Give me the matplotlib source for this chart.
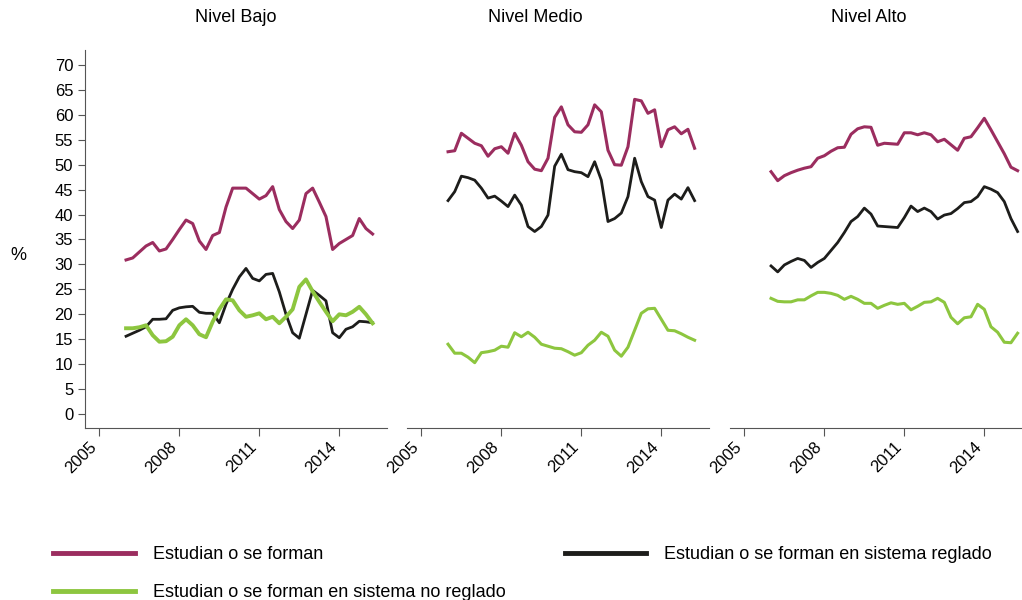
import numpy as np
import matplotlib
matplotlib.use("Agg")
import matplotlib.pyplot as plt
from matplotlib.lines import Line2D

plt.rcParams['font.family'] = ['Liberation Sans', 'DejaVu Sans']

# quarterly, 2006Q1 .. 2015Q2
years = 2006 + np.arange(38) / 4.0

titles = ["Nivel Bajo", "Nivel Medio", "Nivel Alto"]
labels = ["Estudian o se forman",
          "Estudian o se forman en sistema reglado",
          "Estudian o se forman en sistema no reglado"]

# Nivel Bajo
bajo_total = [30.9, 31.3, 32.5, 33.7, 34.4, 32.7, 33.1, 35.0, 37.0, 38.9,
              38.2, 34.7, 33.0, 35.8, 36.4, 41.5, 45.3, 45.3, 45.3, 44.2,
              43.1, 43.8, 45.6, 41.0, 38.6, 37.2, 38.9, 44.2, 45.3, 42.5,
              39.6, 33.0, 34.2, 35.0, 35.8, 39.2, 37.2, 36.1]
bajo_reglado = [15.6, 16.2, 16.8, 17.5, 19.0, 19.0, 19.1, 20.8, 21.3, 21.5,
                21.6, 20.4, 20.2, 20.2, 18.3, 22.0, 25.0, 27.5, 29.2, 27.2,
                26.7, 28.0, 28.2, 24.5, 20.0, 16.3, 15.2, 20.0, 24.8, 23.8,
                22.7, 16.3, 15.3, 17.0, 17.5, 18.6, 18.5, 18.3]
bajo_noreglado = [17.2, 17.2, 17.4, 17.8, 15.8, 14.5, 14.6, 15.5, 17.8, 19.0,
                  17.8, 16.0, 15.4, 18.5, 21.0, 23.0, 22.8, 20.8, 19.5, 19.8,
                  20.2, 19.0, 19.5, 18.2, 19.5, 21.0, 25.5, 27.0, 24.6, 22.5,
                  20.5, 18.6, 20.0, 19.8, 20.5, 21.5, 20.0, 18.2]

# Nivel Medio
medio_total = [52.6, 52.8, 56.3, 55.3, 54.3, 53.8, 51.7, 53.2, 53.6, 52.3,
               56.3, 53.9, 50.6, 49.1, 48.8, 51.3, 59.5, 61.6, 58.0, 56.6,
               56.5, 58.0, 62.0, 60.6, 52.9, 50.0, 49.9, 53.6, 63.1, 62.8,
               60.3, 61.0, 53.6, 57.0, 57.6, 56.2, 57.1, 53.3]
medio_reglado = [42.8, 44.6, 47.7, 47.4, 46.9, 45.3, 43.3, 43.7, 42.7, 41.6,
                 43.9, 41.9, 37.6, 36.6, 37.6, 39.9, 49.7, 52.1, 49.0, 48.6,
                 48.4, 47.6, 50.6, 46.9, 38.6, 39.2, 40.3, 43.6, 51.3, 46.6,
                 43.6, 42.9, 37.4, 42.9, 44.1, 43.1, 45.4, 42.8]
medio_noreglado = [14.0, 12.2, 12.2, 11.4, 10.3, 12.3, 12.5, 12.8, 13.6, 13.4,
                   16.3, 15.5, 16.4, 15.4, 14.0, 13.6, 13.2, 13.1, 12.5, 11.8,
                   12.3, 13.8, 14.8, 16.4, 15.6, 12.8, 11.6, 13.4, 16.8, 20.2,
                   21.1, 21.2, 19.0, 16.8, 16.7, 16.1, 15.4, 14.8]

# Nivel Alto
alto_total = [48.6, 46.8, 47.8, 48.4, 48.9, 49.3, 49.6, 51.3, 51.8, 52.7,
              53.4, 53.5, 56.1, 57.2, 57.6, 57.5, 53.9, 54.3, 54.2, 54.1,
              56.4, 56.4, 56.0, 56.4, 56.0, 54.6, 55.1, 54.0, 52.9, 55.3,
              55.6, 57.4, 59.3, 57.0, 54.6, 52.2, 49.5, 48.8]
alto_reglado = [29.7, 28.5, 29.9, 30.6, 31.2, 30.8, 29.4, 30.4, 31.2, 32.8,
                34.4, 36.4, 38.6, 39.6, 41.3, 40.1, 37.7, 37.6, 37.5, 37.4,
                39.4, 41.7, 40.6, 41.3, 40.6, 39.1, 39.9, 40.2, 41.2, 42.4,
                42.6, 43.6, 45.6, 45.1, 44.4, 42.6, 39.2, 36.6]
alto_noreglado = [23.2, 22.6, 22.5, 22.5, 22.9, 22.9, 23.7, 24.4, 24.4, 24.2,
                  23.8, 23.0, 23.6, 23.0, 22.2, 22.2, 21.2, 21.8, 22.3, 22.0,
                  22.2, 20.9, 21.6, 22.4, 22.5, 23.2, 22.4, 19.4, 18.1, 19.3,
                  19.5, 22.0, 21.0, 17.5, 16.4, 14.4, 14.3, 16.2]

panels = [(bajo_total, bajo_reglado, bajo_noreglado),
          (medio_total, medio_reglado, medio_noreglado),
          (alto_total, alto_reglado, alto_noreglado)]

c_total = '#9b2d5f'
c_reg = '#1d1d1b'
c_noreg = '#8dc63f'

W, H = 1022, 600
fig = plt.figure(figsize=(W / 100, H / 100), dpi=100)

lefts = [85, 407, 730]
title_x = [0.5, 0.426, 0.46]
for k, (tot, reg, noreg) in enumerate(panels):
    ax = fig.add_axes([lefts[k] / W, 1 - 428 / H, 302 / W, 378 / H])
    ax.plot(years, tot, color=c_total, lw=2.2)
    ax.plot(years, reg, color=c_reg, lw=2.0)
    ax.plot(years, noreg, color=c_noreg, lw=2.8 if k == 0 else 2.2)
    ax.set_xlim(2004.46, 2015.79)
    ax.set_ylim(-2.8, 73)
    ax.set_xticks([2005, 2008, 2011, 2014])
    ax.set_xticklabels(['2005', '2008', '2011', '2014'], rotation=45,
                       ha='right', fontsize=12)
    ax.set_yticks(range(0, 75, 5))
    ax.spines['top'].set_visible(False)
    ax.spines['right'].set_visible(False)
    ax.spines['bottom'].set_color('#555555')
    ax.tick_params(axis='x', length=6, color='#555555', pad=2)
    if k == 0:
        ax.spines['left'].set_color('#555555')
        ax.tick_params(axis='y', length=5, color='#555555', labelsize=12)
    else:
        ax.spines['left'].set_visible(False)
        ax.tick_params(axis='y', left=False, labelleft=False)
    ax.set_title(titles[k], x=title_x[k], fontsize=13, pad=20)

fig.text(18 / W, 1 - 255 / H, '%', fontsize=13, ha='center', va='center')

handles = [Line2D([], [], color=c_total, lw=3.5),
           Line2D([], [], color=c_noreg, lw=3.5),
           Line2D([], [], color=c_reg, lw=3.5)]
fig.legend(handles, [labels[0], labels[2], labels[1]], ncol=2,
           loc='upper left', bbox_to_anchor=(37 / W, 1 - 530 / H),
           frameon=False, fontsize=13, handlelength=4.5, handletextpad=1.0,
           columnspacing=3.3, labelspacing=1.17)

fig.savefig('out.png', dpi=100)
